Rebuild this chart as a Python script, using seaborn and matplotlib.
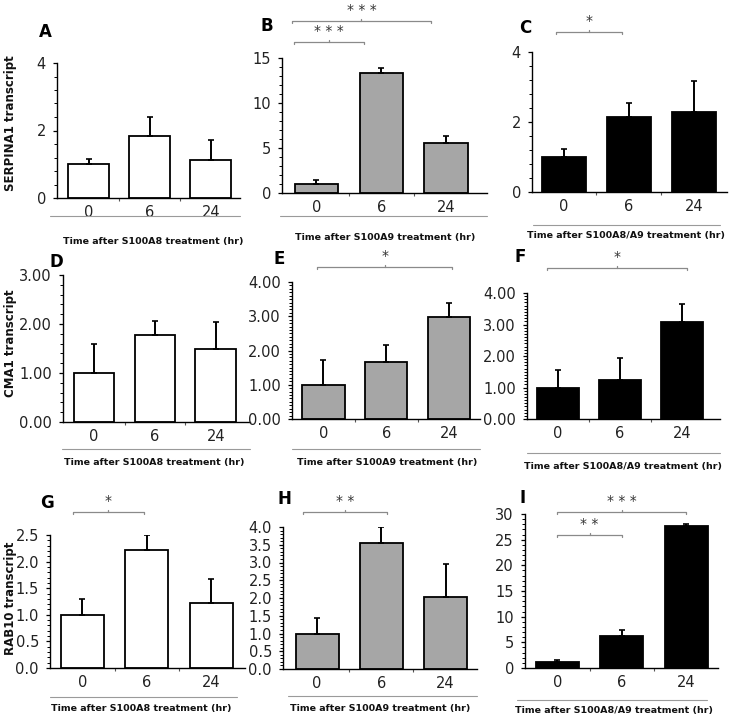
import matplotlib
matplotlib.use("Agg")
import matplotlib.pyplot as plt
from matplotlib.lines import Line2D
from matplotlib.ticker import MultipleLocator, FormatStrFormatter
import seaborn as sns
import pandas as pd

sns.set_theme(style="ticks")
plt.rcParams['font.family'] = ['DejaVu Sans']

# data
times = ["0", "6", "24"]

serpina1_s100a8 = [1.00, 1.85, 1.12]
serpina1_s100a8_err = [0.15, 0.55, 0.60]
serpina1_s100a9 = [1.00, 13.3, 5.55]
serpina1_s100a9_err = [0.40, 0.60, 0.75]
serpina1_s100a8a9 = [1.00, 2.13, 2.30]
serpina1_s100a8a9_err = [0.22, 0.42, 0.87]

cma1_s100a8 = [1.00, 1.78, 1.50]
cma1_s100a8_err = [0.60, 0.29, 0.54]
cma1_s100a9 = [1.00, 1.65, 2.97]
cma1_s100a9_err = [0.72, 0.50, 0.43]
cma1_s100a8a9 = [1.00, 1.23, 3.07]
cma1_s100a8a9_err = [0.57, 0.72, 0.58]

rab10_s100a8 = [1.00, 2.22, 1.23]
rab10_s100a8_err = [0.30, 0.28, 0.44]
rab10_s100a9 = [1.00, 3.55, 2.02]
rab10_s100a9_err = [0.45, 0.45, 0.95]
rab10_s100a8a9 = [1.10, 6.30, 27.7]
rab10_s100a8a9_err = [0.40, 1.10, 0.30]

treat_labels = ["Time after S100A8 treatment (hr)",
                "Time after S100A9 treatment (hr)",
                "Time after S100A8/A9 treatment (hr)"]
gene_labels = ["SERPINA1 transcript", "CMA1 transcript", "RAB10 transcript"]

# significance brackets: (x from, x to, stars)
sig_B = [(-0.34, 0.74, "* * *"), (-0.38, 1.77, "* * *")]
sig_C = [(-0.12, 0.90, "*")]
sig_E = [(-0.10, 2.05, "*")]
sig_F = [(-0.18, 2.08, "*")]
sig_G = [(-0.14, 0.95, "*")]
sig_H = [(-0.22, 1.09, "* *")]
sig_I = [(0.0, 1.0, "* *"), (0.0, 2.0, "* * *")]

W, H = 733, 723
fig = plt.figure(figsize=(W / 100, H / 100), dpi=100)

white, gray, black = "#ffffff", "#a6a6a6", "#000000"

# panel layout: name, values, err, colour, (left, top, right, bottom px), xlim, ylim,
# major, minor, fmt, brackets (axes-fraction y), letter pos, xlabel line, text pos
panels = [
    ("A", serpina1_s100a8, serpina1_s100a8_err, white, (57, 63, 240, 198), (-0.52, 2.48), 4, 2, 0.4, "%d",
     [], (45, 32), (50, 240, 216), (153, 242), 0),
    ("B", serpina1_s100a9, serpina1_s100a9_err, gray, (282, 58, 487, 193), (-0.53, 2.63), 15, 5, 1, "%d",
     list(zip(sig_B, [1.119, 1.274])), (267, 26), (280, 487, 216), (385, 238), 1),
    ("C", serpina1_s100a8a9, serpina1_s100a8a9_err, black, (532, 52, 727, 192), (-0.49, 2.51), 4, 2, 0.4, "%d",
     list(zip(sig_C, [1.143])), (525, 28), (533, 720, 225), (626, 236), 2),
    ("D", cma1_s100a8, cma1_s100a8_err, white, (63, 275, 250, 422), (-0.51, 2.56), 3, 1, 0.2, "%.2f",
     [], (56, 262), (62, 250, 449), (154, 463), 0),
    ("E", cma1_s100a9, cma1_s100a9_err, gray, (292, 282, 480, 419), (-0.50, 2.49), 4, 1, 0.1, "%.2f",
     list(zip(sig_E, [1.109])), (279, 259), (292, 480, 449), (387, 463), 1),
    ("F", cma1_s100a8a9, cma1_s100a8a9_err, black, (527, 293, 720, 419), (-0.50, 2.61), 4, 1, 0.1, "%.2f",
     list(zip(sig_F, [1.198])), (520, 257), (527, 720, 453), (623, 467), 2),
    ("G", rab10_s100a8, rab10_s100a8_err, white, (50, 535, 245, 668), (-0.50, 2.52), 2.5, 0.5, 0.1, "%.1f",
     list(zip(sig_G, [1.173])), (47, 503), (50, 237, 697), (141, 708), 0),
    ("H", rab10_s100a9, rab10_s100a9_err, gray, (283, 527, 477, 669), (-0.53, 2.49), 4, 0.5, 0.1, "%.1f",
     list(zip(sig_H, [1.106])), (284, 499), (288, 477, 696), (380, 709), 1),
    ("I", rab10_s100a8a9, rab10_s100a8a9_err, black, (525, 514, 718, 668), (-0.50, 2.49), 30, 5, 1, "%d",
     list(zip(sig_I, [0.864, 1.013])), (523, 498), (517, 707, 700), (614, 710), 2),
]

for (letter, vals, errs, col, box, xl, ymax, major, minor, fmt,
     brackets, lpos, lline, tpos, tidx) in panels:
    l, t, r, b = box
    ax = fig.add_axes([l / W, 1 - b / H, (r - l) / W, (b - t) / H])
    df = pd.DataFrame({"time": times, "value": vals})
    sns.barplot(data=df, x="time", y="value", order=times, color=col,
                edgecolor="black", linewidth=1.3, width=0.67,
                errorbar=None, saturation=1, ax=ax)
    ax.errorbar(range(len(times)), vals, yerr=[[0] * len(errs), errs],
                fmt="none", ecolor="black", elinewidth=1.4, capsize=2,
                capthick=1.2, zorder=1)
    ax.set_xlim(*xl)
    ax.set_ylim(0, ymax)
    ax.yaxis.set_major_locator(MultipleLocator(major))
    ax.yaxis.set_minor_locator(MultipleLocator(minor))
    ax.yaxis.set_major_formatter(FormatStrFormatter(fmt))
    ax.xaxis.set_minor_locator(MultipleLocator(1))
    ax.set_xticks(range(len(times)))
    ax.set_xticks([0.5, 1.5], minor=True)
    ax.set_xlabel("")
    ax.set_ylabel("")
    for s in ("top", "right"):
        ax.spines[s].set_visible(False)
    for s in ("left", "bottom"):
        ax.spines[s].set_linewidth(1.0)
        ax.spines[s].set_color("black")
    ax.tick_params(axis="y", which="major", length=3, width=0.9, labelsize=10.5,
                   pad=5, colors="black", labelcolor="#222222")
    ax.tick_params(axis="y", which="minor", length=2, width=0.7, colors="black")
    ax.tick_params(axis="x", which="major", length=0, labelsize=10.5, pad=5,
                   labelcolor="#222222")
    ax.tick_params(axis="x", which="minor", length=2, width=0.8, colors="#555555")
    ax.set_facecolor("none")

    # significance brackets
    trans = ax.get_xaxis_transform()
    for (x0, x1, stars), yb in brackets:
        drop = 2.0 / (b - t)
        ax.plot([x0, x0, x1, x1], [yb - drop, yb, yb, yb - drop],
                color="#8a8a8a", lw=0.9, transform=trans, clip_on=False)
        ax.plot([(x0 + x1) / 2] * 2, [yb, yb + drop], color="#8a8a8a",
                lw=0.9, transform=trans, clip_on=False)
        ax.annotate(stars, xy=((x0 + x1) / 2, yb), xycoords=trans,
                    xytext=(0, 8), textcoords="offset points",
                    ha="center", va="center", fontsize=10, color="#333333")

    fig.text(lpos[0] / W, 1 - lpos[1] / H, letter, ha="center", va="center",
             fontsize=12, fontweight="bold", color="black")
    fig.add_artist(Line2D([lline[0] / W, lline[1] / W],
                          [1 - lline[2] / H, 1 - lline[2] / H],
                          color="#9a9a9a", lw=0.8))
    fig.text(tpos[0] / W, 1 - tpos[1] / H, treat_labels[tidx], ha="center",
             va="center", fontsize=6.8, fontweight="bold", color="#111111")

for lab, yc in zip(gene_labels, [123, 343, 598]):
    fig.text(11 / W, 1 - yc / H, lab, rotation=90, ha="center", va="center",
             fontsize=8.5, fontweight="bold", color="#111111")

fig.savefig("out.png", dpi=100, facecolor="white")
